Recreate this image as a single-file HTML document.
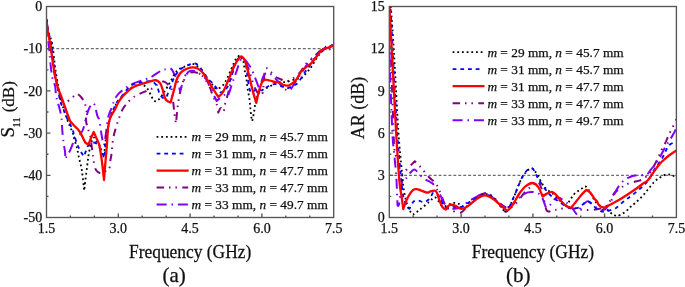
<!DOCTYPE html>
<html><head><meta charset="utf-8"><style>
html,body{margin:0;padding:0;background:#fff;width:685px;height:287px;overflow:hidden}
svg{display:block;will-change:transform}
text{font-family:'Liberation Serif',serif;fill:#111;stroke:#111;stroke-width:0.25px}
</style></head><body>
<svg width="685" height="287" viewBox="0 0 685 287">
<defs><clipPath id="cl"><rect x="46.5" y="5.5" width="287.2" height="212.0"/></clipPath>
<clipPath id="cr"><rect x="389.3" y="5.5" width="287.1" height="212.0"/></clipPath></defs>
<line x1="46.5" y1="48.7" x2="333.7" y2="48.7" stroke="#333" stroke-width="0.9" stroke-dasharray="2.9 2.03"/>
<line x1="389.3" y1="175.3" x2="676.4" y2="175.3" stroke="#333" stroke-width="0.9" stroke-dasharray="2.9 2.03"/>
<path clip-path="url(#cl)" d="M46.50 20.00 C46.50 20.00 47.33 25.83 48.00 30.00 C48.67 34.17 49.58 38.67 50.50 45.00 C51.42 51.33 52.42 61.17 53.50 68.00 C54.58 74.83 55.92 81.17 57.00 86.00 C58.08 90.83 59.00 94.33 60.00 97.00 C61.00 99.67 61.93 101.12 63.00 102.00 C64.07 102.88 65.08 102.87 66.40 102.30 C67.72 101.73 69.42 99.82 70.90 98.60 C72.38 97.38 74.25 95.80 75.30 95.00 C76.35 94.20 76.18 93.38 77.20 93.80 C78.22 94.22 80.18 96.00 81.40 97.50 C82.62 99.00 83.63 100.72 84.50 102.80 C85.37 104.88 86.35 107.13 86.60 110.00 C86.85 112.87 85.80 116.92 86.00 120.00 C86.20 123.08 87.12 126.00 87.80 128.50 C88.48 131.00 89.48 132.25 90.10 135.00 C90.72 137.75 91.02 141.50 91.50 145.00 C91.98 148.50 92.53 152.83 93.00 156.00 C93.47 159.17 93.80 161.67 94.30 164.00 C94.80 166.33 95.05 168.50 96.00 170.00 C96.95 171.50 98.67 172.67 100.00 173.00 C101.33 173.33 102.80 172.50 104.00 172.00 C105.20 171.50 106.32 170.45 107.20 170.00 C108.08 169.55 108.78 170.82 109.30 169.30 C109.82 167.78 109.95 163.35 110.30 160.90 C110.65 158.45 111.05 157.38 111.40 154.60 C111.75 151.82 111.93 147.68 112.40 144.20 C112.87 140.72 113.20 137.72 114.20 133.70 C115.20 129.68 117.02 124.12 118.40 120.10 C119.78 116.08 120.77 112.73 122.50 109.60 C124.23 106.47 126.70 103.57 128.80 101.30 C130.90 99.03 133.35 97.23 135.10 96.00 C136.85 94.77 137.38 94.77 139.30 93.90 C141.22 93.03 144.52 91.67 146.60 90.80 C148.68 89.93 149.90 89.83 151.80 88.70 C153.70 87.57 156.02 85.20 158.00 84.00 C159.98 82.80 162.07 81.43 163.70 81.50 C165.33 81.57 166.50 83.15 167.80 84.40 C169.10 85.65 170.63 86.40 171.50 89.00 C172.37 91.60 172.48 95.67 173.00 100.00 C173.52 104.33 174.10 111.08 174.60 115.00 C175.10 118.92 176.00 123.50 176.00 123.50 C176.00 123.50 176.92 112.75 177.50 108.00 C178.08 103.25 178.75 98.83 179.50 95.00 C180.25 91.17 181.08 88.17 182.00 85.00 C182.92 81.83 183.92 78.02 185.00 76.00 C186.08 73.98 186.97 73.52 188.50 72.90 C190.03 72.28 192.30 72.12 194.20 72.30 C196.10 72.48 198.08 72.83 199.90 74.00 C201.72 75.17 203.33 76.82 205.10 79.30 C206.87 81.78 209.28 86.28 210.50 88.90 C211.72 91.52 211.38 92.48 212.40 95.00 C213.42 97.52 215.62 101.08 216.60 104.00 C217.58 106.92 218.30 112.50 218.30 112.50 C218.30 112.50 220.03 108.25 220.90 108.10 C221.77 107.95 222.77 112.47 223.50 111.60 C224.23 110.73 224.42 106.38 225.30 102.90 C226.18 99.42 227.85 94.52 228.80 90.70 C229.75 86.88 229.98 84.75 231.00 80.00 C232.02 75.25 233.40 65.87 234.90 62.20 C236.40 58.53 238.32 58.03 240.00 58.00 C241.68 57.97 243.50 60.00 245.00 62.00 C246.50 64.00 247.83 67.00 249.00 70.00 C250.17 73.00 250.83 76.67 252.00 80.00 C253.17 83.33 254.83 87.67 256.00 90.00 C257.17 92.33 257.88 93.60 259.00 94.00 C260.12 94.40 261.67 96.48 262.70 92.40 C263.73 88.32 263.92 72.97 265.20 69.50 C266.48 66.03 268.67 70.38 270.40 71.60 C272.13 72.82 274.03 75.58 275.60 76.80 C277.17 78.02 278.05 78.20 279.80 78.90 C281.55 79.60 284.00 81.00 286.10 81.00 C288.20 81.00 289.97 80.47 292.40 78.90 C294.83 77.33 298.67 73.92 300.70 71.60 C302.73 69.28 303.17 66.70 304.60 65.00 C306.03 63.30 307.40 63.07 309.30 61.40 C311.20 59.73 314.22 56.73 316.00 55.00 C317.78 53.27 318.77 52.20 320.00 51.00 C321.23 49.80 322.13 48.58 323.40 47.80 C324.67 47.02 325.88 46.80 327.60 46.30 C329.32 45.80 333.70 44.80 333.70 44.80" fill="none" stroke="#800080" stroke-width="2" stroke-dasharray="7.5 4.9 1.5 4.9 1.5 5.4"  stroke-linejoin="round"/>
<path clip-path="url(#cl)" d="M46.50 20.00 C46.50 20.00 47.22 26.67 47.50 30.00 C47.78 33.33 47.87 36.33 48.20 40.00 C48.53 43.67 49.15 48.33 49.50 52.00 C49.85 55.67 49.93 58.40 50.30 62.00 C50.67 65.60 51.23 70.50 51.70 73.60 C52.17 76.70 52.52 78.50 53.10 80.60 C53.68 82.70 54.73 83.87 55.20 86.20 C55.67 88.53 55.55 92.15 55.90 94.60 C56.25 97.05 56.72 98.67 57.30 100.90 C57.88 103.13 58.70 105.15 59.40 108.00 C60.10 110.85 61.02 114.22 61.50 118.00 C61.98 121.78 62.05 127.42 62.30 130.70 C62.55 133.98 62.77 135.50 63.00 137.70 C63.23 139.90 63.35 141.47 63.70 143.90 C64.05 146.33 64.87 149.73 65.10 152.30 C65.33 154.87 65.10 159.30 65.10 159.30 C65.10 159.30 66.70 156.40 67.50 155.00 C68.30 153.60 69.03 152.75 69.90 150.90 C70.77 149.05 71.88 146.10 72.70 143.90 C73.52 141.70 73.72 139.12 74.80 137.70 C75.88 136.28 77.83 136.77 79.20 135.40 C80.57 134.03 81.87 132.40 83.00 129.50 C84.13 126.60 85.05 121.35 86.00 118.00 C86.95 114.65 87.70 111.73 88.70 109.40 C89.70 107.07 91.03 104.80 92.00 104.00 C92.97 103.20 93.60 102.60 94.50 104.60 C95.40 106.60 96.60 113.43 97.40 116.00 C98.20 118.57 98.65 117.15 99.30 120.00 C99.95 122.85 100.77 129.77 101.30 133.10 C101.83 136.43 102.05 138.02 102.50 140.00 C102.95 141.98 104.00 145.00 104.00 145.00 C104.00 145.00 104.98 140.27 105.60 136.00 C106.22 131.73 107.00 123.33 107.70 119.40 C108.40 115.47 108.98 114.67 109.80 112.40 C110.62 110.13 111.87 107.83 112.60 105.80 C113.33 103.77 113.23 102.18 114.20 100.20 C115.17 98.22 116.67 95.82 118.40 93.90 C120.13 91.98 122.52 90.27 124.60 88.70 C126.68 87.13 128.45 85.72 130.90 84.50 C133.35 83.28 136.87 82.27 139.30 81.40 C141.73 80.53 143.58 80.00 145.50 79.30 C147.42 78.60 148.00 78.77 150.80 77.20 C153.60 75.63 160.03 71.18 162.30 69.90 C164.57 68.62 163.02 69.77 164.40 69.50 C165.78 69.23 168.70 67.07 170.60 68.30 C172.50 69.53 174.55 74.50 175.80 76.90 C177.05 79.30 177.40 80.35 178.10 82.70 C178.80 85.05 180.00 91.00 180.00 91.00 C180.00 91.00 181.27 86.97 182.00 85.00 C182.73 83.03 183.32 81.40 184.40 79.20 C185.48 77.00 186.78 73.18 188.50 71.80 C190.22 70.42 192.78 70.53 194.70 70.90 C196.62 71.27 198.08 72.60 200.00 74.00 C201.92 75.40 204.70 77.47 206.20 79.30 C207.70 81.13 207.97 82.92 209.00 85.00 C210.03 87.08 211.13 89.13 212.40 91.80 C213.67 94.47 216.60 101.00 216.60 101.00 C216.60 101.00 218.77 99.00 220.00 98.00 C221.23 97.00 223.00 95.17 224.00 95.00 C225.00 94.83 225.27 97.03 226.00 97.00 C226.73 96.97 227.52 96.60 228.40 94.80 C229.28 93.00 230.33 89.07 231.30 86.20 C232.27 83.33 233.25 80.32 234.20 77.60 C235.15 74.88 236.03 72.67 237.00 69.90 C237.97 67.13 239.13 62.98 240.00 61.00 C240.87 59.02 241.42 58.27 242.20 58.00 C242.98 57.73 243.82 58.57 244.70 59.40 C245.58 60.23 246.55 61.73 247.50 63.00 C248.45 64.27 249.72 66.00 250.40 67.00 C251.08 68.00 250.88 67.37 251.60 69.00 C252.32 70.63 253.65 74.10 254.70 76.80 C255.75 79.50 257.10 83.00 257.90 85.20 C258.70 87.40 259.50 90.00 259.50 90.00 C259.50 90.00 261.80 79.70 263.10 76.80 C264.40 73.90 265.90 72.95 267.30 72.60 C268.70 72.25 269.93 73.47 271.50 74.70 C273.07 75.93 274.78 77.90 276.70 80.00 C278.62 82.10 280.92 85.57 283.00 87.30 C285.08 89.03 287.03 91.45 289.20 90.40 C291.37 89.35 293.87 84.07 296.00 81.00 C298.13 77.93 300.33 74.50 302.00 72.00 C303.67 69.50 304.25 68.47 306.00 66.00 C307.75 63.53 310.82 59.10 312.50 57.20 C314.18 55.30 314.85 55.47 316.10 54.60 C317.35 53.73 318.68 52.73 320.00 52.00 C321.32 51.27 322.55 50.60 324.00 50.20 C325.45 49.80 327.08 50.00 328.70 49.60 C330.32 49.20 333.70 47.80 333.70 47.80" fill="none" stroke="#8000ff" stroke-width="2" stroke-dasharray="10 4.9 1.5 4.9"  stroke-linejoin="round"/>
<path clip-path="url(#cl)" d="M46.50 19.50 C46.50 19.50 47.02 25.75 48.00 30.00 C48.98 34.25 51.20 38.67 52.40 45.00 C53.60 51.33 54.03 59.97 55.20 68.00 C56.37 76.03 58.47 87.48 59.40 93.20 C60.33 98.92 60.22 100.08 60.80 102.30 C61.38 104.52 62.08 104.37 62.90 106.50 C63.72 108.63 64.58 111.90 65.70 115.10 C66.82 118.30 68.43 122.75 69.60 125.70 C70.77 128.65 71.95 130.68 72.70 132.80 C73.45 134.92 73.52 136.32 74.10 138.40 C74.68 140.48 75.62 143.22 76.20 145.30 C76.78 147.38 77.13 148.80 77.60 150.90 C78.07 153.00 78.53 155.82 79.00 157.90 C79.47 159.98 79.88 161.05 80.40 163.40 C80.92 165.75 81.47 167.48 82.10 172.00 C82.73 176.52 84.20 190.50 84.20 190.50 C84.20 190.50 84.68 186.05 85.20 181.80 C85.72 177.55 86.70 169.68 87.30 165.00 C87.90 160.32 88.20 157.20 88.80 153.70 C89.40 150.20 90.32 146.32 90.90 144.00 C91.48 141.68 92.30 139.80 92.30 139.80 C92.30 139.80 93.58 137.23 94.40 137.70 C95.22 138.17 96.27 141.22 97.20 142.60 C98.13 143.98 99.03 143.68 100.00 146.00 C100.97 148.32 103.00 156.50 103.00 156.50 C103.00 156.50 103.88 155.55 104.30 153.00 C104.72 150.45 105.07 144.37 105.50 141.20 C105.93 138.03 106.52 136.08 106.90 134.00 C107.28 131.92 107.37 130.88 107.80 128.70 C108.23 126.52 108.92 123.37 109.50 120.90 C110.08 118.43 110.57 115.93 111.30 113.90 C112.03 111.87 113.03 110.43 113.90 108.70 C114.77 106.97 115.75 104.78 116.50 103.50 C117.25 102.22 116.35 103.30 118.40 101.00 C120.45 98.70 125.32 92.45 128.80 89.70 C132.28 86.95 136.33 84.85 139.30 84.50 C142.27 84.15 144.52 85.52 146.60 87.60 C148.68 89.68 150.40 94.73 151.80 97.00 C153.20 99.27 153.78 100.85 155.00 101.20 C156.22 101.55 157.53 100.67 159.10 99.10 C160.67 97.53 162.48 94.75 164.40 91.80 C166.32 88.85 168.52 84.88 170.60 81.40 C172.68 77.92 174.45 73.42 176.90 70.90 C179.35 68.38 182.52 67.42 185.30 66.30 C188.08 65.18 191.17 63.78 193.60 64.20 C196.03 64.62 197.80 66.63 199.90 68.80 C202.00 70.97 204.12 74.58 206.20 77.20 C208.28 79.82 210.67 82.58 212.40 84.50 C214.13 86.42 214.88 88.53 216.60 88.70 C218.32 88.87 220.82 87.50 222.70 85.50 C224.58 83.50 225.70 81.12 227.90 76.70 C230.10 72.28 233.70 62.47 235.90 59.00 C238.10 55.53 239.83 55.40 241.10 55.90 C242.37 56.40 242.92 59.65 243.50 62.00 C244.08 64.35 244.10 67.07 244.60 70.00 C245.10 72.93 246.02 76.57 246.50 79.60 C246.98 82.63 247.02 85.02 247.50 88.20 C247.98 91.38 248.92 95.35 249.40 98.70 C249.88 102.05 250.08 105.27 250.40 108.30 C250.72 111.33 250.98 114.78 251.30 116.90 C251.62 119.02 252.30 121.00 252.30 121.00 C252.30 121.00 253.62 114.52 254.20 111.20 C254.78 107.88 254.95 104.23 255.80 101.10 C256.65 97.97 257.85 94.43 259.30 92.40 C260.75 90.37 262.47 90.05 264.50 88.90 C266.53 87.75 269.30 86.65 271.50 85.50 C273.70 84.35 275.27 82.58 277.70 82.00 C280.13 81.42 282.97 82.52 286.10 82.00 C289.23 81.48 294.13 79.45 296.50 78.90 C298.87 78.35 299.08 79.20 300.30 78.70 C301.52 78.20 302.52 77.18 303.80 75.90 C305.08 74.62 306.82 72.37 308.00 71.00 C309.18 69.63 309.33 70.03 310.90 67.70 C312.47 65.37 315.27 59.95 317.40 57.00 C319.53 54.05 320.98 51.92 323.70 50.00 C326.42 48.08 333.70 45.50 333.70 45.50" fill="none" stroke="#000" stroke-width="1.8" stroke-dasharray="1.8 2.88"  stroke-linejoin="round"/>
<path clip-path="url(#cl)" d="M46.50 18.80 C46.50 18.80 47.17 25.63 48.00 30.00 C48.83 34.37 50.42 38.67 51.50 45.00 C52.58 51.33 53.33 60.17 54.50 68.00 C55.67 75.83 57.50 86.33 58.50 92.00 C59.50 97.67 59.75 99.33 60.50 102.00 C61.25 104.67 62.08 105.67 63.00 108.00 C63.92 110.33 64.83 113.33 66.00 116.00 C67.17 118.67 68.83 121.50 70.00 124.00 C71.17 126.50 71.85 127.80 73.00 131.00 C74.15 134.20 75.67 139.88 76.90 143.20 C78.13 146.52 79.23 148.68 80.40 150.90 C81.57 153.12 83.90 156.50 83.90 156.50 C83.90 156.50 85.42 152.53 86.00 150.90 C86.58 149.27 86.73 147.77 87.40 146.70 C88.07 145.63 89.07 145.20 90.00 144.50 C90.93 143.80 91.80 142.60 93.00 142.50 C94.20 142.40 96.15 143.20 97.20 143.90 C98.25 144.60 98.38 145.18 99.30 146.70 C100.22 148.22 101.98 151.12 102.70 153.00 C103.42 154.88 103.60 158.00 103.60 158.00 C103.60 158.00 104.48 156.05 104.80 153.70 C105.12 151.35 105.15 146.68 105.50 143.90 C105.85 141.12 106.42 140.15 106.90 137.00 C107.38 133.85 107.72 128.50 108.40 125.00 C109.08 121.50 110.07 118.80 111.00 116.00 C111.93 113.20 113.03 110.48 114.00 108.20 C114.97 105.92 115.40 104.45 116.80 102.30 C118.20 100.15 120.05 98.10 122.40 95.30 C124.75 92.50 127.73 87.65 130.90 85.50 C134.07 83.35 137.92 83.08 141.40 82.40 C144.88 81.72 149.20 80.70 151.80 81.40 C154.40 82.10 155.60 84.33 157.00 86.60 C158.40 88.87 158.80 93.08 160.20 95.00 C161.60 96.92 163.67 99.50 165.40 98.10 C167.13 96.70 169.03 90.27 170.60 86.60 C172.17 82.93 173.05 79.07 174.80 76.10 C176.55 73.13 178.67 70.72 181.10 68.80 C183.53 66.88 186.97 65.47 189.40 64.60 C191.83 63.73 193.60 62.72 195.70 63.60 C197.80 64.48 199.90 67.28 202.00 69.90 C204.10 72.52 206.60 77.15 208.30 79.30 C210.00 81.45 210.82 81.33 212.20 82.80 C213.58 84.27 215.15 86.50 216.60 88.10 C218.05 89.70 219.67 92.08 220.90 92.40 C222.13 92.72 222.97 90.80 224.00 90.00 C225.03 89.20 225.93 89.60 227.10 87.60 C228.27 85.60 229.53 82.27 231.00 78.00 C232.47 73.73 234.23 65.50 235.90 62.00 C237.57 58.50 239.43 57.00 241.00 57.00 C242.57 57.00 244.00 57.25 245.30 62.00 C246.60 66.75 247.78 80.28 248.80 85.50 C249.82 90.72 250.53 92.43 251.40 93.30 C252.27 94.17 252.90 91.42 254.00 90.70 C255.10 89.98 256.67 89.05 258.00 89.00 C259.33 88.95 260.28 90.87 262.00 90.40 C263.72 89.93 266.03 87.23 268.30 86.20 C270.57 85.17 272.98 84.02 275.60 84.20 C278.22 84.38 282.08 86.62 284.00 87.30 C285.92 87.98 285.35 88.65 287.10 88.30 C288.85 87.95 292.58 86.25 294.50 85.20 C296.42 84.15 296.85 84.20 298.60 82.00 C300.35 79.80 302.93 75.00 305.00 72.00 C307.07 69.00 308.83 67.17 311.00 64.00 C313.17 60.83 315.67 55.67 318.00 53.00 C320.33 50.33 322.38 49.33 325.00 48.00 C327.62 46.67 333.70 45.00 333.70 45.00" fill="none" stroke="#0000ff" stroke-width="1.8" stroke-dasharray="3.8 3.9"  stroke-linejoin="round"/>
<path clip-path="url(#cl)" d="M46.50 21.40 C46.50 21.40 46.85 26.07 47.50 30.00 C48.15 33.93 49.37 38.67 50.40 45.00 C51.43 51.33 52.53 61.13 53.70 68.00 C54.87 74.87 56.17 81.53 57.40 86.20 C58.63 90.87 59.75 92.28 61.10 96.00 C62.45 99.72 64.02 104.33 65.50 108.50 C66.98 112.67 70.00 121.00 70.00 121.00 C70.00 121.00 72.62 124.05 74.00 125.50 C75.38 126.95 77.12 128.28 78.30 129.70 C79.48 131.12 79.93 131.87 81.10 134.00 C82.27 136.13 84.02 140.85 85.30 142.50 C86.58 144.15 88.80 143.90 88.80 143.90 C88.80 143.90 90.18 139.98 91.00 138.00 C91.82 136.02 93.70 132.00 93.70 132.00 C93.70 132.00 95.57 136.18 96.50 138.40 C97.43 140.62 98.38 141.37 99.30 145.30 C100.22 149.23 101.22 156.22 102.00 162.00 C102.78 167.78 104.00 180.00 104.00 180.00 C104.00 180.00 105.12 165.83 105.60 160.00 C106.08 154.17 106.47 150.50 106.90 145.00 C107.33 139.50 107.62 131.60 108.20 127.00 C108.78 122.40 109.18 120.48 110.40 117.40 C111.62 114.32 114.23 110.90 115.50 108.50 C116.77 106.10 117.03 104.75 118.00 103.00 C118.97 101.25 120.12 99.52 121.30 98.00 C122.48 96.48 123.85 95.18 125.10 93.90 C126.35 92.62 127.55 91.35 128.80 90.30 C130.05 89.25 131.23 88.40 132.60 87.60 C133.97 86.80 135.53 86.10 137.00 85.50 C138.47 84.90 139.73 84.53 141.40 84.00 C143.07 83.47 145.12 82.87 147.00 82.30 C148.88 81.73 151.28 80.95 152.70 80.60 C154.12 80.25 155.50 80.20 155.50 80.20 C155.50 80.20 157.17 80.60 158.00 81.20 C158.83 81.80 159.75 82.50 160.50 83.80 C161.25 85.10 161.85 86.88 162.50 89.00 C163.15 91.12 163.73 94.62 164.40 96.50 C165.07 98.38 165.47 99.30 166.50 100.30 C167.53 101.30 170.60 102.50 170.60 102.50 C170.60 102.50 173.13 93.28 174.10 89.60 C175.07 85.92 175.53 82.92 176.40 80.40 C177.27 77.88 178.27 76.07 179.30 74.50 C180.33 72.93 181.23 72.00 182.60 71.00 C183.97 70.00 185.87 69.12 187.50 68.50 C189.13 67.88 190.77 67.35 192.40 67.30 C194.03 67.25 195.68 67.42 197.30 68.20 C198.92 68.98 200.48 70.15 202.10 72.00 C203.72 73.85 205.17 76.47 207.00 79.30 C208.83 82.13 211.22 86.08 213.10 89.00 C214.98 91.92 218.30 96.80 218.30 96.80 C218.30 96.80 220.12 95.47 221.00 94.50 C221.88 93.53 222.68 92.67 223.60 91.00 C224.52 89.33 225.53 86.73 226.50 84.50 C227.47 82.27 228.12 80.67 229.40 77.60 C230.68 74.53 232.60 69.30 234.20 66.10 C235.80 62.90 237.73 60.00 239.00 58.40 C240.27 56.80 240.85 56.18 241.80 56.50 C242.75 56.82 243.73 58.07 244.70 60.30 C245.67 62.53 246.65 66.38 247.60 69.90 C248.55 73.42 249.45 77.57 250.40 81.40 C251.35 85.23 252.32 89.33 253.30 92.90 C254.28 96.47 256.30 102.80 256.30 102.80 C256.30 102.80 258.07 94.38 259.00 91.00 C259.93 87.62 260.95 84.37 261.90 82.50 C262.85 80.63 263.43 80.13 264.70 79.80 C265.97 79.47 267.62 80.08 269.50 80.50 C271.38 80.92 274.37 82.00 276.00 82.30 C277.63 82.60 277.97 81.82 279.30 82.30 C280.63 82.78 282.35 84.72 284.00 85.20 C285.65 85.68 287.30 85.93 289.20 85.20 C291.10 84.47 293.43 83.05 295.40 80.80 C297.37 78.55 299.63 73.63 301.00 71.70 C302.37 69.77 302.67 70.05 303.60 69.20 C304.53 68.35 305.38 67.53 306.60 66.60 C307.82 65.67 309.67 64.70 310.90 63.60 C312.13 62.50 312.95 61.32 314.00 60.00 C315.05 58.68 315.98 57.30 317.20 55.70 C318.42 54.10 320.08 51.53 321.30 50.40 C322.52 49.27 323.22 49.42 324.50 48.90 C325.78 48.38 327.47 47.82 329.00 47.30 C330.53 46.78 333.70 45.80 333.70 45.80" fill="none" stroke="#ff0000" stroke-width="2.3"  stroke-linejoin="round"/>
<path clip-path="url(#cr)" d="M389.30 8.00 C389.30 8.00 390.30 39.67 391.00 60.00 C391.70 80.33 392.93 115.20 393.50 130.00 C394.07 144.80 393.73 143.58 394.40 148.80 C395.07 154.02 396.20 157.12 397.50 161.30 C398.80 165.48 400.63 172.58 402.20 173.90 C403.77 175.22 404.80 171.30 406.90 169.20 C409.00 167.10 414.80 161.30 414.80 161.30 C414.80 161.30 418.65 164.98 421.00 167.60 C423.35 170.22 426.28 174.12 428.90 177.00 C431.52 179.88 434.62 181.77 436.70 184.90 C438.78 188.03 439.83 192.15 441.40 195.80 C442.97 199.45 444.53 204.45 446.10 206.80 C447.67 209.15 449.03 208.98 450.80 209.90 C452.57 210.82 455.02 211.87 456.70 212.30 C458.38 212.73 459.68 212.88 460.90 212.50 C462.12 212.12 462.88 211.25 464.00 210.00 C465.12 208.75 466.27 206.58 467.60 205.00 C468.93 203.42 470.43 201.92 472.00 200.50 C473.57 199.08 475.02 197.67 477.00 196.50 C478.98 195.33 481.70 193.83 483.90 193.50 C486.10 193.17 486.02 192.07 490.20 194.50 C494.38 196.93 503.08 208.62 509.00 208.10 C514.92 207.58 521.52 195.40 525.70 191.40 C529.88 187.40 532.00 185.67 534.10 184.10 C536.20 182.53 536.92 180.78 538.30 182.00 C539.68 183.22 541.02 186.70 542.40 191.40 C543.78 196.10 544.85 207.07 546.60 210.20 C548.35 213.33 550.80 210.38 552.90 210.20 C555.00 210.02 556.60 209.52 559.20 209.10 C561.80 208.68 565.03 207.62 568.50 207.70 C571.97 207.78 575.53 209.28 580.00 209.60 C584.47 209.92 590.83 210.23 595.30 209.60 C599.77 208.97 604.18 207.57 606.80 205.80 C609.42 204.03 609.72 201.13 611.00 199.00 C612.28 196.87 613.18 194.62 614.50 193.00 C615.82 191.38 617.35 190.50 618.90 189.30 C620.45 188.10 622.45 186.67 623.80 185.80 C625.15 184.93 625.77 184.62 627.00 184.10 C628.23 183.58 629.58 183.17 631.20 182.70 C632.82 182.23 634.73 181.88 636.70 181.30 C638.67 180.72 641.13 180.25 643.00 179.20 C644.87 178.15 646.50 176.38 647.90 175.00 C649.30 173.62 650.22 172.73 651.40 170.90 C652.58 169.07 653.93 166.08 655.00 164.00 C656.07 161.92 656.90 160.28 657.80 158.40 C658.70 156.52 659.53 154.60 660.40 152.70 C661.27 150.80 662.05 148.88 663.00 147.00 C663.95 145.12 665.23 143.22 666.10 141.40 C666.97 139.58 667.33 138.02 668.20 136.10 C669.07 134.18 670.25 131.98 671.30 129.90 C672.35 127.82 673.65 125.42 674.50 123.60 C675.35 121.78 676.40 119.00 676.40 119.00" fill="none" stroke="#800080" stroke-width="2" stroke-dasharray="7.5 4.9 1.5 4.9 1.5 5.4"  stroke-linejoin="round"/>
<path clip-path="url(#cr)" d="M389.30 30.00 C389.30 30.00 389.48 51.65 389.60 58.60 C389.72 65.55 389.60 60.70 390.00 71.70 C390.40 82.70 391.53 113.22 392.00 124.60 C392.47 135.98 392.50 135.77 392.80 140.00 C393.10 144.23 393.33 145.28 393.80 150.00 C394.27 154.72 395.15 163.30 395.60 168.30 C396.05 173.30 396.18 173.85 396.50 180.00 C396.82 186.15 397.50 205.20 397.50 205.20 C397.50 205.20 398.32 207.65 399.10 203.70 C399.88 199.75 401.15 185.62 402.20 181.50 C403.25 177.38 404.50 179.85 405.40 179.00 C406.30 178.15 406.75 177.48 407.60 176.40 C408.45 175.32 409.53 173.60 410.50 172.50 C411.47 171.40 412.57 170.22 413.40 169.80 C414.23 169.38 414.72 169.53 415.50 170.00 C416.28 170.47 416.98 171.43 418.10 172.60 C419.22 173.77 420.88 175.80 422.20 177.00 C423.52 178.20 424.70 178.97 426.00 179.80 C427.30 180.63 428.73 181.22 430.00 182.00 C431.27 182.78 431.95 182.45 433.60 184.50 C435.25 186.55 438.32 191.42 439.90 194.30 C441.48 197.18 442.03 199.50 443.10 201.80 C444.17 204.10 443.97 207.00 446.30 208.10 C448.63 209.20 454.67 208.58 457.10 208.40 C459.53 208.22 458.52 208.45 460.90 207.00 C463.28 205.55 467.57 201.95 471.40 199.70 C475.23 197.45 480.77 194.20 483.90 193.50 C487.03 192.80 487.07 193.42 490.20 195.50 C493.33 197.58 499.22 204.25 502.70 206.00 C506.18 207.75 508.32 207.40 511.10 206.00 C513.88 204.60 516.62 199.87 519.40 197.60 C522.18 195.33 525.00 193.27 527.80 192.40 C530.60 191.53 534.17 191.97 536.20 192.40 C538.23 192.83 538.93 193.98 540.00 195.00 C541.07 196.02 541.72 196.70 542.60 198.50 C543.48 200.30 544.63 204.25 545.30 205.80 C545.97 207.35 546.60 207.80 546.60 207.80 C546.60 207.80 549.17 206.05 550.60 204.50 C552.03 202.95 553.65 199.58 555.20 198.50 C556.75 197.42 558.35 197.50 559.90 198.00 C561.45 198.50 563.07 200.50 564.50 201.50 C565.93 202.50 567.18 202.83 568.50 204.00 C569.82 205.17 571.08 206.83 572.40 208.50 C573.72 210.17 576.40 214.00 576.40 214.00 C576.40 214.00 578.22 211.87 579.10 210.50 C579.98 209.13 580.82 207.02 581.70 205.80 C582.58 204.58 583.40 203.97 584.40 203.20 C585.40 202.43 586.60 201.20 587.70 201.20 C588.80 201.20 589.78 202.32 591.00 203.20 C592.22 204.08 593.83 205.62 595.00 206.50 C596.17 207.38 596.92 207.92 598.00 208.50 C599.08 209.08 600.33 209.83 601.50 210.00 C602.67 210.17 603.92 210.25 605.00 209.50 C606.08 208.75 606.77 207.32 608.00 205.50 C609.23 203.68 611.17 200.85 612.40 198.60 C613.63 196.35 614.13 194.35 615.40 192.00 C616.67 189.65 618.38 186.62 620.00 184.50 C621.62 182.38 623.43 180.55 625.10 179.30 C626.77 178.05 628.37 177.62 630.00 177.00 C631.63 176.38 633.23 175.85 634.90 175.60 C636.57 175.35 638.38 175.63 640.00 175.50 C641.62 175.37 643.38 175.02 644.60 174.80 C645.82 174.58 646.15 175.18 647.30 174.20 C648.45 173.22 650.10 170.65 651.50 168.90 C652.90 167.15 654.40 165.45 655.70 163.70 C657.00 161.95 657.83 160.93 659.30 158.40 C660.77 155.87 662.85 151.40 664.50 148.50 C666.15 145.60 667.53 143.75 669.20 141.00 C670.87 138.25 673.30 134.25 674.50 132.00 C675.70 129.75 676.40 127.50 676.40 127.50" fill="none" stroke="#8000ff" stroke-width="2" stroke-dasharray="10 4.9 1.5 4.9"  stroke-linejoin="round"/>
<path clip-path="url(#cr)" d="M389.30 5.00 C389.30 5.00 390.08 -0.18 390.90 8.40 C391.72 16.98 392.97 36.23 394.20 56.50 C395.43 76.77 397.03 110.95 398.30 130.00 C399.57 149.05 400.80 160.35 401.80 170.80 C402.80 181.25 403.18 186.43 404.30 192.70 C405.42 198.97 407.02 204.75 408.50 208.40 C409.98 212.05 413.20 214.60 413.20 214.60 C413.20 214.60 416.88 211.98 419.50 209.90 C422.12 207.82 426.28 204.18 428.90 202.10 C431.52 200.02 433.12 196.88 435.20 197.40 C437.28 197.92 439.55 203.77 441.40 205.20 C443.25 206.63 444.45 206.38 446.30 206.00 C448.15 205.62 450.42 203.25 452.50 202.90 C454.58 202.55 456.70 203.22 458.80 203.90 C460.90 204.58 462.32 207.70 465.10 207.00 C467.88 206.30 472.37 201.78 475.50 199.70 C478.63 197.62 481.10 195.02 483.90 194.50 C486.70 193.98 489.17 194.17 492.30 196.60 C495.43 199.03 500.27 206.67 502.70 209.10 C505.13 211.53 505.15 212.93 506.90 211.20 C508.65 209.47 511.12 203.40 513.20 198.70 C515.28 194.00 517.32 187.37 519.40 183.00 C521.48 178.63 523.60 174.93 525.70 172.50 C527.80 170.07 530.08 168.05 532.00 168.40 C533.92 168.75 535.12 171.47 537.20 174.60 C539.28 177.73 541.72 183.87 544.50 187.20 C547.28 190.53 551.45 192.48 553.90 194.60 C556.35 196.72 557.77 198.50 559.20 199.90 C560.63 201.30 561.37 201.98 562.50 203.00 C563.63 204.02 566.00 206.00 566.00 206.00 C566.00 206.00 568.50 202.42 569.80 200.50 C571.10 198.58 572.48 196.03 573.80 194.50 C575.12 192.97 576.38 192.28 577.70 191.30 C579.02 190.32 580.48 189.43 581.70 188.60 C582.92 187.77 583.90 186.18 585.00 186.30 C586.10 186.42 587.08 187.70 588.30 189.30 C589.52 190.90 591.18 193.92 592.30 195.90 C593.42 197.88 593.72 199.60 595.00 201.20 C596.28 202.80 598.03 204.13 600.00 205.50 C601.97 206.87 605.13 208.28 606.80 209.40 C608.47 210.52 608.87 211.27 610.00 212.20 C611.13 213.13 612.27 214.37 613.60 215.00 C614.93 215.63 618.00 216.00 618.00 216.00 C618.00 216.00 620.48 214.80 621.70 214.10 C622.92 213.40 624.17 212.65 625.30 211.80 C626.43 210.95 627.43 210.00 628.50 209.00 C629.57 208.00 630.57 206.80 631.70 205.80 C632.83 204.80 633.92 204.22 635.30 203.00 C636.68 201.78 638.37 200.17 640.00 198.50 C641.63 196.83 643.43 194.93 645.10 193.00 C646.77 191.07 648.37 188.85 650.00 186.90 C651.63 184.95 653.17 182.92 654.90 181.30 C656.63 179.68 658.43 178.35 660.40 177.20 C662.37 176.05 664.83 174.75 666.70 174.40 C668.57 174.05 669.98 174.58 671.60 175.10 C673.22 175.62 676.40 177.50 676.40 177.50" fill="none" stroke="#000" stroke-width="1.8" stroke-dasharray="1.8 2.88"  stroke-linejoin="round"/>
<path clip-path="url(#cr)" d="M389.30 5.00 C389.30 5.00 389.88 -0.50 390.50 8.00 C391.12 16.50 391.92 35.67 393.00 56.00 C394.08 76.33 395.92 112.67 397.00 130.00 C398.08 147.33 398.80 151.67 399.50 160.00 C400.20 168.33 400.62 174.17 401.20 180.00 C401.78 185.83 402.45 191.58 403.00 195.00 C403.55 198.42 403.80 198.58 404.50 200.50 C405.20 202.42 406.37 205.12 407.20 206.50 C408.03 207.88 409.50 208.80 409.50 208.80 C409.50 208.80 410.77 206.27 411.50 205.00 C412.23 203.73 412.73 201.95 413.90 201.20 C415.07 200.45 417.07 200.38 418.50 200.50 C419.93 200.62 421.18 201.78 422.50 201.90 C423.82 202.02 425.08 201.87 426.40 201.20 C427.72 200.53 429.20 199.32 430.40 197.90 C431.60 196.48 432.02 192.78 433.60 192.70 C435.18 192.62 438.07 195.05 439.90 197.40 C441.73 199.75 442.25 205.23 444.60 206.80 C446.95 208.37 451.28 206.77 454.00 206.80 C456.72 206.83 458.07 207.97 460.90 207.00 C463.73 206.03 467.15 203.00 471.00 201.00 C474.85 199.00 480.50 195.67 484.00 195.00 C487.50 194.33 489.00 195.00 492.00 197.00 C495.00 199.00 499.52 204.63 502.00 207.00 C504.48 209.37 504.68 213.45 506.90 211.20 C509.12 208.95 512.52 199.60 515.30 193.50 C518.08 187.40 520.82 178.78 523.60 174.60 C526.38 170.42 529.55 167.70 532.00 168.40 C534.45 169.10 535.52 174.62 538.30 178.80 C541.08 182.98 545.22 189.67 548.70 193.50 C552.18 197.33 555.90 199.43 559.20 201.80 C562.50 204.17 566.20 206.67 568.50 207.70 C570.80 208.73 571.47 207.98 573.00 208.00 C574.53 208.02 576.25 208.27 577.70 207.80 C579.15 207.33 580.58 205.97 581.70 205.20 C582.82 204.43 583.40 203.87 584.40 203.20 C585.40 202.53 586.60 201.20 587.70 201.20 C588.80 201.20 589.78 202.20 591.00 203.20 C592.22 204.20 593.83 206.10 595.00 207.20 C596.17 208.30 596.90 209.08 598.00 209.80 C599.10 210.52 600.43 211.22 601.60 211.50 C602.77 211.78 603.73 211.65 605.00 211.50 C606.27 211.35 607.43 211.15 609.20 210.60 C610.97 210.05 613.58 209.40 615.60 208.20 C617.62 207.00 619.35 205.00 621.30 203.40 C623.25 201.80 625.43 200.00 627.30 198.60 C629.17 197.20 630.58 196.48 632.50 195.00 C634.42 193.52 636.82 191.40 638.80 189.70 C640.78 188.00 642.65 186.67 644.40 184.80 C646.15 182.93 647.78 180.82 649.30 178.50 C650.82 176.18 652.00 173.33 653.50 170.90 C655.00 168.47 656.80 166.12 658.30 163.90 C659.80 161.68 661.30 159.67 662.50 157.60 C663.70 155.53 664.67 153.18 665.50 151.50 C666.33 149.82 666.75 148.67 667.50 147.50 C668.25 146.33 668.83 145.38 670.00 144.50 C671.17 143.62 673.43 142.70 674.50 142.20 C675.57 141.70 676.40 141.50 676.40 141.50" fill="none" stroke="#0000ff" stroke-width="1.8" stroke-dasharray="3.8 3.9"  stroke-linejoin="round"/>
<path clip-path="url(#cr)" d="M389.30 6.50 C389.30 6.50 391.18 39.02 392.30 59.60 C393.42 80.18 394.83 109.93 396.00 130.00 C397.17 150.07 398.38 169.00 399.30 180.00 C400.22 191.00 400.83 191.17 401.50 196.00 C402.17 200.83 403.30 209.00 403.30 209.00 C403.30 209.00 406.25 200.38 407.90 197.20 C409.55 194.02 411.55 191.22 413.20 189.90 C414.85 188.58 416.50 189.20 417.80 189.30 C419.10 189.40 419.42 189.93 421.00 190.50 C422.58 191.07 425.80 192.53 427.30 192.70 C428.80 192.87 428.77 191.83 430.00 191.50 C431.23 191.17 433.52 190.45 434.70 190.70 C435.88 190.95 436.32 191.43 437.10 193.00 C437.88 194.57 438.50 197.73 439.40 200.10 C440.30 202.47 441.45 205.63 442.50 207.20 C443.55 208.77 445.70 209.50 445.70 209.50 C445.70 209.50 447.22 207.18 448.00 206.40 C448.78 205.62 449.22 204.93 450.40 204.80 C451.58 204.67 453.40 204.95 455.10 205.60 C456.80 206.25 458.77 208.43 460.60 208.70 C462.43 208.97 464.13 208.23 466.10 207.20 C468.07 206.17 470.32 204.08 472.40 202.50 C474.48 200.92 476.52 198.88 478.60 197.70 C480.68 196.52 482.80 195.40 484.90 195.40 C487.00 195.40 489.10 196.52 491.20 197.70 C493.30 198.88 495.42 200.80 497.50 202.50 C499.58 204.20 501.97 206.62 503.70 207.90 C505.43 209.18 506.32 210.87 507.90 210.20 C509.48 209.53 511.28 206.68 513.20 203.90 C515.12 201.12 517.32 196.47 519.40 193.50 C521.48 190.53 523.43 187.85 525.70 186.10 C527.97 184.35 530.90 182.82 533.00 183.00 C535.10 183.18 536.70 184.93 538.30 187.20 C539.90 189.47 542.60 196.60 542.60 196.60 C542.60 196.60 545.05 194.68 546.60 193.90 C548.15 193.12 550.25 191.68 551.90 191.90 C553.55 192.12 554.95 193.65 556.50 195.20 C558.05 196.75 559.65 199.43 561.20 201.20 C562.75 202.97 564.15 204.70 565.80 205.80 C567.45 206.90 571.10 207.80 571.10 207.80 C571.10 207.80 574.63 203.40 576.40 201.20 C578.17 199.00 580.05 196.48 581.70 194.60 C583.35 192.72 586.30 189.90 586.30 189.90 C586.30 189.90 588.97 191.17 590.30 192.60 C591.63 194.03 593.18 197.02 594.30 198.50 C595.42 199.98 596.18 200.33 597.00 201.50 C597.82 202.67 598.03 204.45 599.20 205.50 C600.37 206.55 604.00 207.80 604.00 207.80 C604.00 207.80 605.87 206.87 607.20 206.20 C608.53 205.53 610.13 204.80 612.00 203.80 C613.87 202.80 615.98 201.63 618.40 200.20 C620.82 198.77 623.73 196.98 626.50 195.20 C629.27 193.42 632.38 191.32 635.00 189.50 C637.62 187.68 640.20 185.72 642.20 184.30 C644.20 182.88 645.70 182.13 647.00 181.00 C648.30 179.87 648.88 179.00 650.00 177.50 C651.12 176.00 652.37 173.92 653.70 172.00 C655.03 170.08 656.62 167.75 658.00 166.00 C659.38 164.25 660.17 163.25 662.00 161.50 C663.83 159.75 666.60 157.33 669.00 155.50 C671.40 153.67 676.40 150.50 676.40 150.50" fill="none" stroke="#ff0000" stroke-width="2.3"  stroke-linejoin="round"/>
<rect x="46.5" y="6.5" width="287.2" height="211.0" fill="none" stroke="#555" stroke-width="1.35"/>
<path d="M70.4 217.5 V215.5 M94.4 217.5 V215.5 M118.3 217.5 V213.5 M142.2 217.5 V215.5 M166.2 217.5 V215.5 M190.1 217.5 V213.5 M214.0 217.5 V215.5 M238.0 217.5 V215.5 M261.9 217.5 V213.5 M285.8 217.5 V215.5 M309.8 217.5 V215.5 M46.5 27.6 H48.5 M46.5 48.7 H50.5 M46.5 69.8 H48.5 M46.5 90.9 H50.5 M46.5 112.0 H48.5 M46.5 133.1 H50.5 M46.5 154.2 H48.5 M46.5 175.3 H50.5 M46.5 196.4 H48.5" stroke="#555" stroke-width="1.35" fill="none"/>
<rect x="389.3" y="6.5" width="287.1" height="211.0" fill="none" stroke="#555" stroke-width="1.35"/>
<path d="M413.2 217.5 V215.5 M437.1 217.5 V215.5 M461.1 217.5 V213.5 M485.0 217.5 V215.5 M508.9 217.5 V215.5 M532.9 217.5 V213.5 M556.8 217.5 V215.5 M580.7 217.5 V215.5 M604.6 217.5 V213.5 M628.5 217.5 V215.5 M652.5 217.5 V215.5 M389.3 27.6 H391.3 M389.3 48.7 H393.3 M389.3 69.8 H391.3 M389.3 90.9 H393.3 M389.3 112.0 H391.3 M389.3 133.1 H393.3 M389.3 154.2 H391.3 M389.3 175.3 H393.3 M389.3 196.4 H391.3" stroke="#555" stroke-width="1.35" fill="none"/>
<text x="46.5" y="232.6" font-size="14" text-anchor="middle" >1.5</text>
<text x="389.3" y="232.6" font-size="14" text-anchor="middle" >1.5</text>
<text x="118.3" y="232.6" font-size="14" text-anchor="middle" >3.0</text>
<text x="461.1" y="232.6" font-size="14" text-anchor="middle" >3.0</text>
<text x="190.1" y="232.6" font-size="14" text-anchor="middle" >4.5</text>
<text x="532.9" y="232.6" font-size="14" text-anchor="middle" >4.5</text>
<text x="261.9" y="232.6" font-size="14" text-anchor="middle" >6.0</text>
<text x="604.6" y="232.6" font-size="14" text-anchor="middle" >6.0</text>
<text x="333.7" y="232.6" font-size="14" text-anchor="middle" >7.5</text>
<text x="676.4" y="232.6" font-size="14" text-anchor="middle" >7.5</text>
<text x="42.2" y="11.2" font-size="14" text-anchor="end" >0</text>
<text x="42.2" y="53.4" font-size="14" text-anchor="end" >-10</text>
<text x="42.2" y="95.6" font-size="14" text-anchor="end" >-20</text>
<text x="42.2" y="137.8" font-size="14" text-anchor="end" >-30</text>
<text x="42.2" y="180.0" font-size="14" text-anchor="end" >-40</text>
<text x="42.2" y="222.2" font-size="14" text-anchor="end" >-50</text>
<text x="384.8" y="11.2" font-size="14" text-anchor="end" >15</text>
<text x="384.8" y="53.4" font-size="14" text-anchor="end" >12</text>
<text x="384.8" y="95.6" font-size="14" text-anchor="end" >9</text>
<text x="384.8" y="137.8" font-size="14" text-anchor="end" >6</text>
<text x="384.8" y="180.0" font-size="14" text-anchor="end" >3</text>
<text x="384.8" y="222.2" font-size="14" text-anchor="end" >0</text>
<text transform="translate(190.1 257.6) scale(1 1.065)" font-size="17.4" text-anchor="middle">Frequency (GHz)</text>
<text transform="translate(532.9 257.6) scale(1 1.065)" font-size="17.4" text-anchor="middle">Frequency (GHz)</text>
<text x="174.2" y="282.0" font-size="21" text-anchor="middle" >(a)</text>
<text x="518.3" y="282.0" font-size="21" text-anchor="middle" >(b)</text>
<text transform="translate(13.6 137.6) rotate(-90)" font-size="19" text-anchor="start">S<tspan font-size="10.5" dy="6.8" dx="-0.4">11</tspan><tspan dy="-6.8" dx="0.7" font-size="17"> (dB)</tspan></text>
<text transform="translate(364.0 107.9) rotate(-90)" font-size="18" text-anchor="middle">AR (dB)</text>
<line x1="156.6" y1="136.8" x2="188.2" y2="136.8" fill="none" stroke="#000" stroke-width="1.8" stroke-dasharray="1.8 2.88" /><text x="191.5" y="141.4" font-size="13.35"><tspan font-style="italic">m</tspan> = 29 mm, <tspan font-style="italic">n</tspan> = 45.7 mm</text><line x1="156.6" y1="153.7" x2="185.5" y2="153.7" fill="none" stroke="#0000ff" stroke-width="1.8" stroke-dasharray="3.8 3.9" /><text x="191.5" y="158.3" font-size="13.35"><tspan font-style="italic">m</tspan> = 31 mm, <tspan font-style="italic">n</tspan> = 45.7 mm</text><line x1="156.6" y1="170.6" x2="188.7" y2="170.6" fill="none" stroke="#ff0000" stroke-width="2.3" /><text x="191.5" y="175.2" font-size="13.35"><tspan font-style="italic">m</tspan> = 31 mm, <tspan font-style="italic">n</tspan> = 47.7 mm</text><line x1="156.6" y1="187.5" x2="188.2" y2="187.5" fill="none" stroke="#800080" stroke-width="2" stroke-dasharray="7.5 4.9 1.5 4.9 1.5 5.4" /><text x="191.5" y="192.1" font-size="13.35"><tspan font-style="italic">m</tspan> = 33 mm, <tspan font-style="italic">n</tspan> = 47.7 mm</text><line x1="156.6" y1="204.4" x2="188.2" y2="204.4" fill="none" stroke="#8000ff" stroke-width="2" stroke-dasharray="10 4.9 1.5 4.9" /><text x="191.5" y="209.0" font-size="13.35"><tspan font-style="italic">m</tspan> = 33 mm, <tspan font-style="italic">n</tspan> = 49.7 mm</text>
<line x1="452.6" y1="52.2" x2="484.0" y2="52.2" fill="none" stroke="#000" stroke-width="1.8" stroke-dasharray="1.8 2.88" /><text x="487.4" y="56.8" font-size="13.35"><tspan font-style="italic">m</tspan> = 29 mm, <tspan font-style="italic">n</tspan> = 45.7 mm</text><line x1="452.6" y1="69.1" x2="481.3" y2="69.1" fill="none" stroke="#0000ff" stroke-width="1.8" stroke-dasharray="3.8 3.9" /><text x="487.4" y="73.7" font-size="13.35"><tspan font-style="italic">m</tspan> = 31 mm, <tspan font-style="italic">n</tspan> = 45.7 mm</text><line x1="452.6" y1="86.1" x2="484.5" y2="86.1" fill="none" stroke="#ff0000" stroke-width="2.3" /><text x="487.4" y="90.7" font-size="13.35"><tspan font-style="italic">m</tspan> = 31 mm, <tspan font-style="italic">n</tspan> = 47.7 mm</text><line x1="452.6" y1="103.2" x2="484.0" y2="103.2" fill="none" stroke="#800080" stroke-width="2" stroke-dasharray="7.5 4.9 1.5 4.9 1.5 5.4" /><text x="487.4" y="107.8" font-size="13.35"><tspan font-style="italic">m</tspan> = 33 mm, <tspan font-style="italic">n</tspan> = 47.7 mm</text><line x1="452.6" y1="120.3" x2="484.0" y2="120.3" fill="none" stroke="#8000ff" stroke-width="2" stroke-dasharray="10 4.9 1.5 4.9" /><text x="487.4" y="124.9" font-size="13.35"><tspan font-style="italic">m</tspan> = 33 mm, <tspan font-style="italic">n</tspan> = 49.7 mm</text>
</svg>
</body></html>
